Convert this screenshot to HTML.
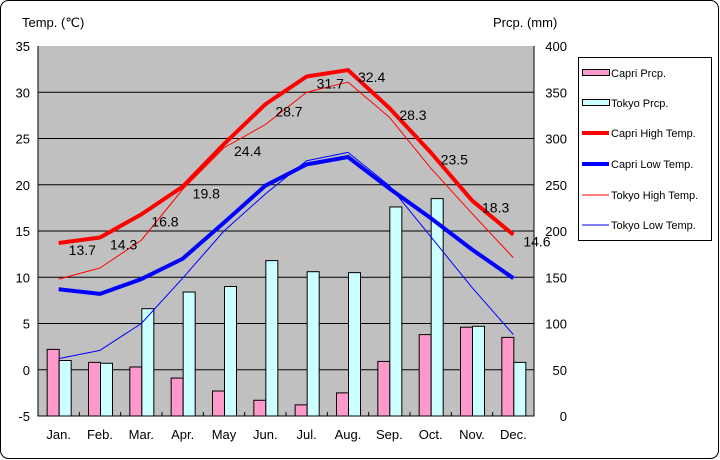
<!DOCTYPE html>
<html><head><meta charset="utf-8"><style>
body{margin:0;background:#fff}
svg{display:block;font-family:"Liberation Sans",sans-serif}
</style></head><body>
<svg width="720" height="460" viewBox="0 0 720 460">
<rect x="0.5" y="0.5" width="718" height="458" rx="8" fill="#fff" stroke="#000"/>
<rect x="38" y="46" width="496" height="370" fill="#c0c0c0"/>
<g id="grid"></g><g id="bars"></g><g id="lines"></g><g id="labels"></g><g id="axes"></g>
<text x="22" y="27" font-size="13">Temp. (℃)</text>
<text x="493" y="27" font-size="13">Prcp. (mm)</text>
<g>
<rect x="578.5" y="57.5" width="133" height="183" fill="#fff" stroke="#000"/>
<g><rect x="582.5" y="69.5" width="27" height="6" fill="#ff99cc" stroke="#000"/><text x="611" y="77" font-size="11">Capri Prcp.</text></g>
<g><rect x="582.5" y="99.5" width="27" height="6" fill="#ccffff" stroke="#000"/><text x="611" y="107" font-size="11">Tokyo Prcp.</text></g>
<g><line x1="582" y1="133" x2="609" y2="133" stroke="#f00" stroke-width="4"/><text x="611" y="137" font-size="11">Capri High Temp.</text></g>
<g><line x1="582" y1="164" x2="609" y2="164" stroke="#00f" stroke-width="4"/><text x="611" y="168" font-size="11">Capri Low Temp.</text></g>
<g><line x1="582" y1="195" x2="609" y2="195" stroke="#f00" stroke-width="1"/><text x="611" y="199" font-size="11">Tokyo High Temp.</text></g>
<g><line x1="582" y1="225" x2="609" y2="225" stroke="#00f" stroke-width="1"/><text x="611" y="229" font-size="11">Tokyo Low Temp.</text></g>
</g>
</svg>
<script>
const months=["Jan.","Feb.","Mar.","Apr.","May","Jun.","Jul.","Aug.","Sep.","Oct.","Nov.","Dec."];
const capriPrcp=[72,58,53,41,27,17,12,25,59,88,96,85];
const tokyoPrcp=[60,57,116,134,140,168,156,155,226,235,97,58];
const capriHigh=[13.7,14.3,16.8,19.8,24.4,28.7,31.7,32.4,28.3,23.5,18.3,14.6];
const capriLow=[8.7,8.2,9.8,12.0,15.9,19.9,22.2,23.0,19.6,16.4,13.0,9.9];
const tokyoHigh=[9.8,11.0,14.0,19.5,24.0,26.5,30.0,31.1,27.3,21.8,16.9,12.1];
const tokyoLow=[1.2,2.1,5.0,9.9,15.0,19.0,22.6,23.5,19.9,14.4,8.9,3.8];
const tempTicks=[35,30,25,20,15,10,5,0,-5];
const prcpTicks=[400,350,300,250,200,150,100,50,0];
const NS="http://www.w3.org/2000/svg";
const X0=38,X1=534,Y0=46,Y1=416,bw=(X1-X0)/months.length;
const xc=i=>X0+bw*(i+0.5);
const yT=v=>Y1-(v+5)/40*(Y1-Y0);
const yP=v=>Y1-v/400*(Y1-Y0);
function mk(tag,parent,attrs){const e=document.createElementNS(NS,tag);for(const k in attrs)e.setAttribute(k,attrs[k]);document.getElementById(parent).appendChild(e);return e;}
tempTicks.forEach(t=>{
  if(t<35&&t>-5){const l=mk('line','grid',{x1:X0,x2:X1,y1:yT(t),y2:yT(t),stroke:'#000','stroke-width':1});
  
  }
  const tx=mk('text','axes',{x:30,y:yT(t)+5,'font-size':13,'text-anchor':'end'});tx.textContent=t;
  
  
});
prcpTicks.forEach(t=>{
  const tx=mk('text','axes',{x:567,y:yP(t)+5,'font-size':13,'text-anchor':'end'});tx.textContent=t;
  
  
});
const ax=mk('path','axes',{d:`M${X0} ${Y0}V${Y1}H${X1}V${Y0}`,fill:'none',stroke:'#000'});


months.forEach((m,i)=>{
  const tk=mk('line','axes',{x1:X0+bw*(i+1),x2:X0+bw*(i+1),y1:Y1,y2:Y1-4,stroke:'#000'});
  
  
  const tx=mk('text','axes',{x:xc(i),y:439,'font-size':13,'text-anchor':'middle'});tx.textContent=m;
  
  
  const b1=mk('rect','bars',{x:xc(i)-12+0.5,y:yP(capriPrcp[i]),width:12,height:Y1-yP(capriPrcp[i]),fill:'#ff99cc',stroke:'#000'});
  
  
  const b2=mk('rect','bars',{x:xc(i)+0.5,y:yP(tokyoPrcp[i]),width:12,height:Y1-yP(tokyoPrcp[i]),fill:'#ccffff',stroke:'#000'});
  
  
});
function line(data,color,w,name){
  const p=mk('polyline','lines',{points:data.map((v,i)=>xc(i)+','+yT(v)).join(' '),fill:'none',stroke:color,'stroke-width':w,'stroke-linejoin':'round'});
  
  
}
line(tokyoHigh,'#f00',1,'line-tokyo-high');
line(tokyoLow,'#00f',1,'line-tokyo-low');
line(capriLow,'#00f',4,'line-capri-low');
line(capriHigh,'#f00',4,'line-capri-high');
capriHigh.forEach((v,i)=>{
  const t=mk('text','labels',{x:xc(i)+10,y:yT(v)+12,'font-size':14});t.textContent=v.toFixed(1);
  
  
});
</script>
</body></html>
